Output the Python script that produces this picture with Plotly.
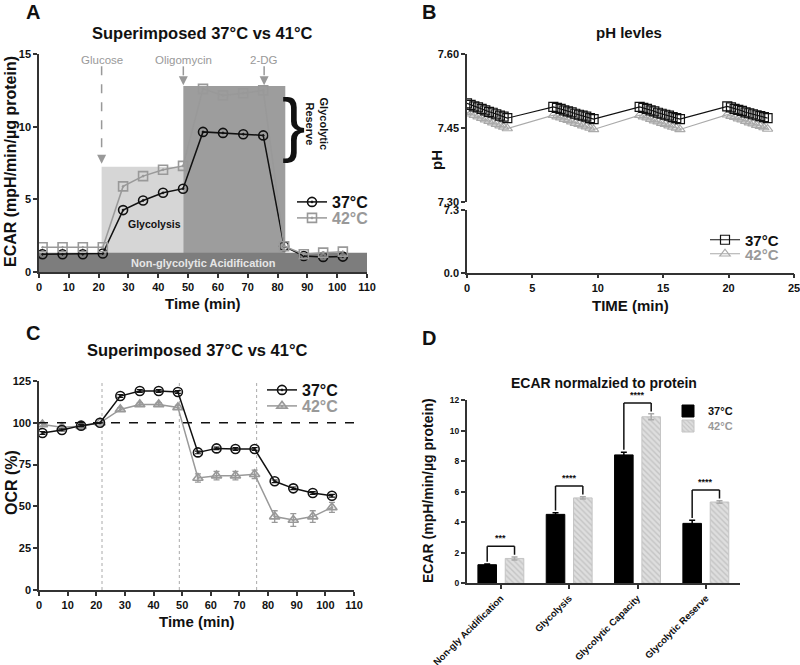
import plotly.graph_objects as go

FONT = "Liberation Sans, Arial, sans-serif"
BLACK = "#111111"
GRAY = "#999999"
AXIS = "#333333"

# ---- Panel A: ECAR, superimposed 37 vs 42
ecar_time = [1.2, 7.9, 14.7, 21.4, 28.2, 34.9, 41.6, 48.3, 55.0, 61.7, 68.5, 75.2, 82.2, 88.8, 95.3, 101.9]
ecar_37 = [1.22, 1.22, 1.22, 1.27, 4.26, 4.92, 5.45, 5.73, 9.64, 9.57, 9.48, 9.40, 1.77, 1.10, 1.04, 1.06]
ecar_42 = [1.70, 1.70, 1.70, 1.70, 5.89, 6.60, 7.04, 7.30, 12.60, 12.15, 12.30, 12.50, 1.77, 1.22, 1.33, 1.40]

# ---- Panel B: pH levels
ph_time = [0.00, 0.28, 0.56, 0.84, 1.12, 1.40, 1.68, 1.96, 2.24, 2.52, 2.80, 3.08,
           6.60, 6.88, 7.16, 7.44, 7.72, 8.00, 8.28, 8.56, 8.84, 9.12, 9.40, 9.68,
           13.20, 13.48, 13.76, 14.04, 14.32, 14.60, 14.88, 15.16, 15.44, 15.72, 16.00, 16.28,
           19.90, 20.18, 20.46, 20.74, 21.02, 21.30, 21.58, 21.86, 22.14, 22.42, 22.70, 22.98]
ph_37 = [7.500, 7.497, 7.494, 7.492, 7.489, 7.486, 7.483, 7.481, 7.478, 7.475, 7.473, 7.470,
         7.493, 7.491, 7.489, 7.486, 7.484, 7.482, 7.479, 7.477, 7.475, 7.473, 7.470, 7.468,
         7.493, 7.491, 7.489, 7.486, 7.484, 7.481, 7.479, 7.477, 7.475, 7.472, 7.470, 7.468,
         7.494, 7.492, 7.489, 7.487, 7.485, 7.482, 7.480, 7.478, 7.476, 7.474, 7.472, 7.470]
ph_42 = [7.482, 7.479, 7.476, 7.473, 7.470, 7.467, 7.464, 7.461, 7.458, 7.455, 7.452, 7.449,
         7.476, 7.473, 7.471, 7.468, 7.466, 7.463, 7.460, 7.458, 7.455, 7.453, 7.450, 7.447,
         7.476, 7.473, 7.471, 7.468, 7.465, 7.463, 7.460, 7.458, 7.455, 7.452, 7.450, 7.447,
         7.477, 7.474, 7.472, 7.469, 7.467, 7.464, 7.461, 7.459, 7.456, 7.454, 7.451, 7.448]

# ---- Panel C: OCR (%)
ocr_time = [1.2, 8.0, 14.7, 21.3, 28.4, 35.2, 41.8, 48.5, 55.5, 62.0, 68.6, 75.3, 82.3, 88.8, 95.6, 102.3]
ocr_37 = [93.9, 95.7, 98.3, 100.0, 116.0, 119.0, 119.0, 118.4, 82.3, 84.7, 84.3, 84.3, 65.0, 60.8, 58.0, 56.4]
ocr_37_err = [0.8, 0.6, 0.6, 0.0, 0.8, 0.8, 0.8, 0.8, 0.8, 0.8, 0.8, 0.8, 0.8, 0.8, 0.8, 0.8]
ocr_42 = [99.0, 97.3, 98.0, 100.0, 108.0, 111.0, 111.0, 109.2, 67.0, 68.4, 68.4, 69.2, 43.9, 41.9, 43.9, 49.4]
ocr_42_err = [0.8, 0.8, 0.8, 0.0, 1.0, 1.0, 1.0, 1.2, 2.5, 2.5, 2.5, 2.5, 3.5, 3.8, 3.5, 3.0]

# ---- Panel D: ECAR normalised to protein
categories = ["Non-gly Acidification", "Glycolysis", "Glycolytic Capacity", "Glycolytic Reserve"]
bar_37 = [1.22, 4.52, 8.42, 3.93]
bar_37_err = [0.04, 0.10, 0.18, 0.20]
bar_42 = [1.63, 5.60, 10.92, 5.33]
bar_42_err = [0.10, 0.08, 0.20, 0.08]
significance = ["***", "****", "****", "****"]

injections = [("Glucose", 21.0), ("Oligomycin", 48.4), ("2-DG", 75.5)]
ocr_injections = [("Glucose", 22.0), ("Oligomycin", 49.0), ("2-DG", 76.0)]

LBL_42 = "<span style='color:#999999'>42°C</span>"


def px_x(p):
    return p / 800


def px_y(p):
    return 1 - p / 665


def bfont(size, color=BLACK, weight="bold"):
    return dict(family=FONT, size=size, color=color, weight=weight)


fig = go.Figure()

# A traces
fig.add_trace(go.Scatter(
    x=ecar_time, y=ecar_37, mode="lines+markers", name="37°C", showlegend=True,
    line=dict(color=BLACK, width=1.5),
    marker=dict(symbol="circle-open-dot", size=9, color=BLACK, line=dict(width=1.6)),
    xaxis="x", yaxis="y", legend="legend"))
fig.add_trace(go.Scatter(
    x=ecar_time, y=ecar_42, mode="lines+markers", name=LBL_42,
    line=dict(color=GRAY, width=1.5),
    marker=dict(symbol="square-open-dot", size=9, color=GRAY, line=dict(width=1.6)),
    xaxis="x", yaxis="y", legend="legend2"))

# B traces
fig.add_trace(go.Scatter(
    x=ph_time, y=ph_42, mode="lines+markers", name=LBL_42,
    line=dict(color="#aaaaaa", width=1.2),
    marker=dict(symbol="triangle-up-open", size=9, color="#aaaaaa", line=dict(width=1.2)),
    xaxis="x2", yaxis="y2", legend="legend4"))
fig.add_trace(go.Scatter(
    x=ph_time, y=ph_37, mode="lines+markers", name="37°C",
    line=dict(color=BLACK, width=1.2),
    marker=dict(symbol="square-open", size=9, color=BLACK, line=dict(width=1.2)),
    xaxis="x2", yaxis="y2", legend="legend3"))
# empty trace so the lower (broken) segment of the pH axis gets drawn with its ticks
fig.add_trace(go.Scatter(x=[None], y=[None], mode="markers", showlegend=False,
                         hoverinfo="skip", xaxis="x2", yaxis="y3"))

# C traces
fig.add_trace(go.Scatter(
    x=ocr_time, y=ocr_42, mode="lines+markers", name=LBL_42,
    line=dict(color=GRAY, width=1.5),
    error_y=dict(type="data", array=ocr_42_err, color=GRAY, thickness=1.3, width=3),
    marker=dict(symbol="triangle-up-open-dot", size=9, color=GRAY, line=dict(width=1.6)),
    xaxis="x3", yaxis="y4", legend="legend6"))
fig.add_trace(go.Scatter(
    x=ocr_time, y=ocr_37, mode="lines+markers", name="37°C",
    line=dict(color=BLACK, width=1.5),
    error_y=dict(type="data", array=ocr_37_err, color=BLACK, thickness=1.2, width=3),
    marker=dict(symbol="circle-open-dot", size=9, color=BLACK, line=dict(width=1.6)),
    xaxis="x3", yaxis="y4", legend="legend5"))

# D traces
fig.add_trace(go.Bar(
    x=categories, y=bar_37, name="37°C",
    marker=dict(color="#000000", line=dict(color="#000000", width=1)),
    error_y=dict(type="data", array=bar_37_err, color="#000000", thickness=1.5, width=3),
    xaxis="x4", yaxis="y5", legend="legend7"))
fig.add_trace(go.Bar(
    x=categories, y=bar_42, name=LBL_42,
    marker=dict(color="#dedede", line=dict(color="#c4c4c4", width=1),
                pattern=dict(shape="\\", fgcolor="#a9a9a9", size=4, solidity=0.35)),
    error_y=dict(type="data", array=bar_42_err, color="#aaaaaa", thickness=1.5, width=3),
    xaxis="x4", yaxis="y5", legend="legend8"))

shapes = []
annotations = []


def note(text, x, y, xref, yref, font, **kw):
    annotations.append(dict(x=x, y=y, xref=xref, yref=yref, text=text, showarrow=False,
                            xanchor="center", yanchor=kw.pop("yanchor", "middle"), font=font, **kw))


# A background boxes
shapes.append(dict(type="rect", xref="x", yref="y", x0=21.0, x1=48.4, y0=0, y1=7.25,
                   fillcolor="#d6d6d6", line=dict(width=0), layer="below"))
shapes.append(dict(type="rect", xref="x", yref="y", x0=48.4, x1=82.6, y0=0, y1=12.8,
                   fillcolor="#9d9d9d", line=dict(width=0), layer="below"))
shapes.append(dict(type="rect", xref="x", yref="y", x0=0, x1=110, y0=0, y1=1.33,
                   fillcolor="#7d7d7d", line=dict(width=0), layer="below"))
note("Non-glycolytic Acidification", 55, 0.62, "x", "y", bfont(11, "#e6e6e6"))
note("Glycolysis", 38.7, 3.3, "x", "y", bfont(10.5))
note("}", 85.3, 10.2, "x", "y", dict(family=FONT, size=70, color=BLACK))
note("Glycolytic<br>Reserve", 93.3, 10.2, "x", "y", bfont(11), textangle=90)

# A injection arrows
arrow_tops = [7.45, 12.85, 12.85]
for (label, xpos), head in zip(injections, arrow_tops):
    note(label, xpos, 14.6, "x", "y", dict(family=FONT, size=11.5, color=GRAY))
    shapes.append(dict(type="line", xref="x", yref="y", x0=xpos, x1=xpos, y0=14.15, y1=head + 0.5,
                       line=dict(color=GRAY, width=1.5, dash="dash")))
    annotations.append(dict(x=xpos, y=head, ax=xpos, ay=head + 0.55, xref="x", yref="y",
                            axref="x", ayref="y", text="", showarrow=True, arrowhead=2,
                            arrowsize=1.2, arrowwidth=1.5, arrowcolor=GRAY))

# C reference lines
shapes.append(dict(type="line", xref="x3", yref="y4", x0=0, x1=110, y0=100, y1=100,
                   line=dict(color=BLACK, width=1.5, dash="dash")))
for label, xpos in ocr_injections:
    shapes.append(dict(type="line", xref="x3", yref="y4", x0=xpos, x1=xpos, y0=0, y1=125,
                       line=dict(color="#aaaaaa", width=1, dash="dot"), layer="below"))
    note(label, xpos, 130, "x3", "y4", dict(family=FONT, size=11, color=GRAY))

# D significance brackets
for i, stars in enumerate(significance):
    left = bar_37[i] + bar_37_err[i] + 0.15
    right = bar_42[i] + bar_42_err[i] + 0.15
    top = max(left, right) + 0.55
    for x0, y0, x1, y1 in [(i - 0.2, left, i - 0.2, top), (i - 0.2, top, i + 0.2, top),
                           (i + 0.2, top, i + 0.2, right)]:
        shapes.append(dict(type="line", xref="x4", yref="y5", x0=x0, x1=x1, y0=y0, y1=y1,
                           line=dict(color=BLACK, width=1.5)))
    note(stars, i, top + 0.05, "x4", "y5", bfont(9), yanchor="bottom")

# titles, panel letters, axis titles
for text, x, y, size in [("Superimposed 37°C vs 41°C", 202, 33, 16.5), ("pH levles", 629, 33, 15),
                         ("Superimposed 37°C vs 41°C", 197, 350, 16.5),
                         ("ECAR normalzied to protein", 604, 383, 14),
                         ("Time (min)", 203, 303, 15), ("TIME (min)", 630, 305, 15),
                         ("Time (min)", 197, 621, 15)]:
    note(text, px_x(x), px_y(y), "paper", "paper", bfont(size))
for text, x, y, size in [("ECAR (mpH/min/µg protein)", 11, 162, 16), ("pH", 436, 160, 15),
                         ("OCR (%)", 11, 483, 16), ("ECAR (mpH/min/µg protein)", 428, 491, 14)]:
    note(text, px_x(x), px_y(y), "paper", "paper", bfont(size), textangle=-90)
for text, x, y in [("A", 33, 12), ("B", 429, 12), ("C", 33, 333), ("D", 429, 338)]:
    note(text, px_x(x), px_y(y), "paper", "paper", bfont(20))


def axis(domain, rng, size=11, **kw):
    d = dict(domain=domain, range=rng, showline=True, linecolor=AXIS, linewidth=1.5,
             ticks="outside", ticklen=4, tickwidth=1.5, tickcolor=AXIS, showgrid=False,
             zeroline=False, tickfont=bfont(size), fixedrange=True, automargin=False,
             ticklabeloverflow="allow")
    d.update(kw)
    return d


def legend_box(x, y, size):
    return dict(x=px_x(x), y=px_y(y), xanchor="left", yanchor="middle", bgcolor="rgba(0,0,0,0)",
                font=bfont(size), itemwidth=30, tracegroupgap=0, visible=True)


fig.update_layout(
    width=800, height=665, margin=dict(l=0, r=0, t=0, b=0), showlegend=True,
    paper_bgcolor="white", plot_bgcolor="white", font=dict(family=FONT),
    barmode="group", bargap=0.2, bargroupgap=0.32,
    xaxis=axis([px_x(39), px_x(367)], [0, 110], anchor="y", dtick=10),
    yaxis=axis([px_y(272), px_y(54)], [0, 15], anchor="x", dtick=5),
    xaxis2=axis([px_x(467), px_x(794)], [0, 25], anchor="y3", dtick=5),
    yaxis2=axis([px_y(201.7), px_y(54.3)], [7.30, 7.60], anchor="x2", tickvals=[7.30, 7.45, 7.60],
                tickformat=".2f"),
    yaxis3=axis([px_y(272.7), px_y(210)], [0, 7.3], anchor="x2", tickvals=[0, 7.3],
                ticktext=["0.0", "7.3"]),
    xaxis3=axis([px_x(39), px_x(354)], [0, 110], anchor="y4", dtick=10),
    yaxis4=axis([px_y(590), px_y(381)], [0, 125], anchor="x3", dtick=25),
    xaxis4=axis([px_x(466.7), px_x(740)], [-0.5, 3.5], anchor="y5", size=9.5, tickangle=-45,
                type="category"),
    yaxis5=axis([px_y(583.3), px_y(400.3)], [0, 12], anchor="x4", size=8.5, dtick=2),
    legend=legend_box(292, 202, 16),
    legend2=legend_box(292, 218, 16),
    legend3=legend_box(705, 240, 15),
    legend4=legend_box(705, 254, 15),
    legend5=legend_box(262, 390, 16),
    legend6=legend_box(262, 406, 16),
    legend7=legend_box(668, 411, 11),
    legend8=legend_box(668, 426, 11),
    shapes=shapes, annotations=annotations,
)

# drop the default page margin so the 800x665 figure fills the window exactly
fig.write_html("out.html", config={"displayModeBar": False},
               post_script="document.body.style.margin = '0px';")
